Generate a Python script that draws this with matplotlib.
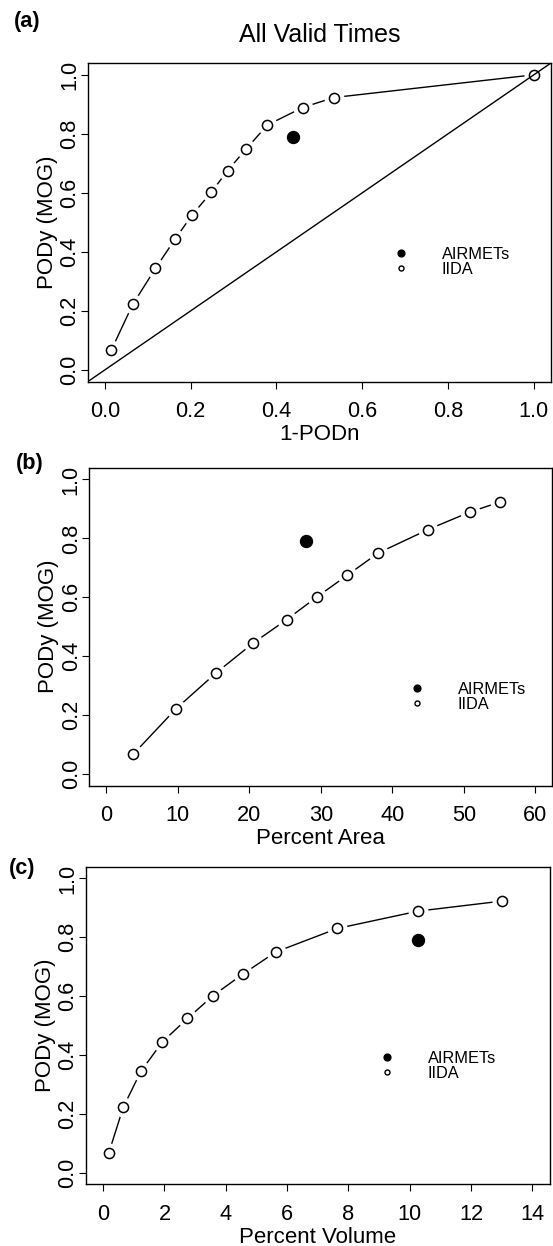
import matplotlib
matplotlib.use("Agg")
import matplotlib.pyplot as plt
from matplotlib.lines import Line2D

plt.rcParams['font.family'] = ['Liberation Sans', 'DejaVu Sans']

# ---------------- data ----------------
pody_iida = [0.067, 0.222, 0.344, 0.444, 0.524, 0.602, 0.675, 0.750, 0.830, 0.889, 0.923]
pody_iida_roc = pody_iida + [1.0]
one_minus_podn_iida = [0.015, 0.065, 0.118, 0.164, 0.203, 0.248, 0.286, 0.330, 0.379, 0.461, 0.534, 1.0]
percent_area_iida = [3.75, 9.76, 15.38, 20.51, 25.2, 29.5, 33.7, 38.0, 45.0, 50.8, 55.0]
percent_volume_iida = [0.184, 0.656, 1.23, 1.93, 2.75, 3.59, 4.56, 5.63, 7.64, 10.28, 13.0]

airmet_pody = 0.79
airmet_one_minus_podn = 0.4375
airmet_percent_area = 27.96
airmet_percent_volume = 10.28

panel_letters = ["(a)", "(b)", "(c)"]
x_labels = ["1-PODn", "Percent Area", "Percent Volume"]
y_label = "PODy (MOG)"
title = "All Valid Times"
legend_labels = ["AIRMETs", "IIDA"]

y_ticks = [0.0, 0.2, 0.4, 0.6, 0.8, 1.0]
y_ticklabels = ["0.0", "0.2", "0.4", "0.6", "0.8", "1.0"]
x_ticks_a = [0.0, 0.2, 0.4, 0.6, 0.8, 1.0]
x_ticklabels_a = ["0.0", "0.2", "0.4", "0.6", "0.8", "1.0"]
x_ticks_b = [0, 10, 20, 30, 40, 50, 60]
x_ticks_c = [0, 2, 4, 6, 8, 10, 12, 14]

# ---------------- layout (pixels) ----------------
W, H = 553, 1246
fig = plt.figure(figsize=(W / 100, H / 100), dpi=100)
fig.patch.set_facecolor("white")

def px_axes(left, right, top, bottom):
    return fig.add_axes([left / W, 1 - bottom / H, (right - left) / W, (bottom - top) / H])

boxes = [(87.7, 551.0, 63.0, 381.7),
         (89.3, 552.5, 467.7, 785.7),
         (86.0, 549.5, 866.7, 1184.3)]

series = [
    (one_minus_podn_iida, pody_iida_roc, airmet_one_minus_podn, (0.0, 1.0), x_ticks_a, x_ticklabels_a),
    (percent_area_iida, pody_iida, airmet_percent_area, (0, 60), x_ticks_b, [str(v) for v in x_ticks_b]),
    (percent_volume_iida, pody_iida, airmet_percent_volume, (0, 14), x_ticks_c, [str(v) for v in x_ticks_c]),
]

legend_pos = [(0.664, 0.376), (0.696, 0.2805), (0.638, 0.374)]
letter_pos = [(14, 27.0), (16, 468.8), (9, 873.8)]

TICK_FS = 15.7
LAB_FS = 16

for i, (box, (xs, ys, ax_x, (x0, x1), xt, xtl)) in enumerate(zip(boxes, series)):
    left, right, top, bottom = box
    ax = px_axes(left, right, top, bottom)
    wpx, hpx = right - left, bottom - top
    dx = 0.04 * (x1 - x0)
    ax.set_xlim(x0 - dx, x1 + dx)
    ax.set_ylim(-0.04, 1.04)

    # IIDA line with gaps around the points (R type="b")
    ax.plot(xs, ys, color="black", lw=1.0, zorder=2)
    ax.plot(xs, ys, ls="none", marker="o", ms=14.4, mfc="white", mec="none", zorder=3)
    ax.plot(xs, ys, ls="none", marker="o", ms=7.3, mfc="white", mec="black", mew=1.1, zorder=4)
    # AIRMET point
    ax.plot([ax_x], [airmet_pody], ls="none", marker="o", ms=8.6, mfc="black", mec="black", zorder=4)

    if i == 0:
        ax.axline((0, 0), (1, 1), color="black", lw=1.0, zorder=5)

    for sp in ax.spines.values():
        sp.set_linewidth(1.0)
        sp.set_zorder(6)

    ax.set_xticks(xt)
    ax.set_xticklabels(xtl)
    ax.set_yticks(y_ticks)
    ax.set_yticklabels(y_ticklabels)
    ax.tick_params(axis="both", direction="out", length=4.8, width=0.8, labelsize=TICK_FS)
    ax.tick_params(axis="x", pad=9.4)
    ax.tick_params(axis="y", pad=0.6, labelrotation=90)
    for lbl in ax.get_yticklabels():
        lbl.set_va("center")

    ax.set_xlabel(x_labels[i], fontsize=LAB_FS)
    ax.xaxis.set_label_coords(0.5, -58.7 / hpx)
    ax.xaxis.label.set_va("baseline")
    ax.set_ylabel(y_label, fontsize=LAB_FS)
    ax.yaxis.set_label_coords(-35.0 / wpx, 0.5)
    ax.yaxis.label.set_va("baseline")

    handles = [Line2D([], [], ls="none", marker="o", ms=4.9, mfc="black", mec="black"),
                Line2D([], [], ls="none", marker="o", ms=3.6, mfc="white", mec="black", mew=1.0)]
    ax.legend(handles, legend_labels, loc="center left", bbox_to_anchor=legend_pos[i],
              frameon=False, fontsize=11.8, handlelength=0.7, handletextpad=2.12,
              labelspacing=0.0, borderpad=0.0, borderaxespad=0.0)

    lx, ly = letter_pos[i]
    fig.text(lx / W, 1 - ly / H, panel_letters[i], fontsize=15.6, fontweight="bold",
             ha="left", va="baseline")

    if i == 0:
        fig.text((left + right) / 2 / W, 1 - 41.7 / H, title, fontsize=18,
                 ha="center", va="baseline")

fig.savefig("out.png", dpi=100)
